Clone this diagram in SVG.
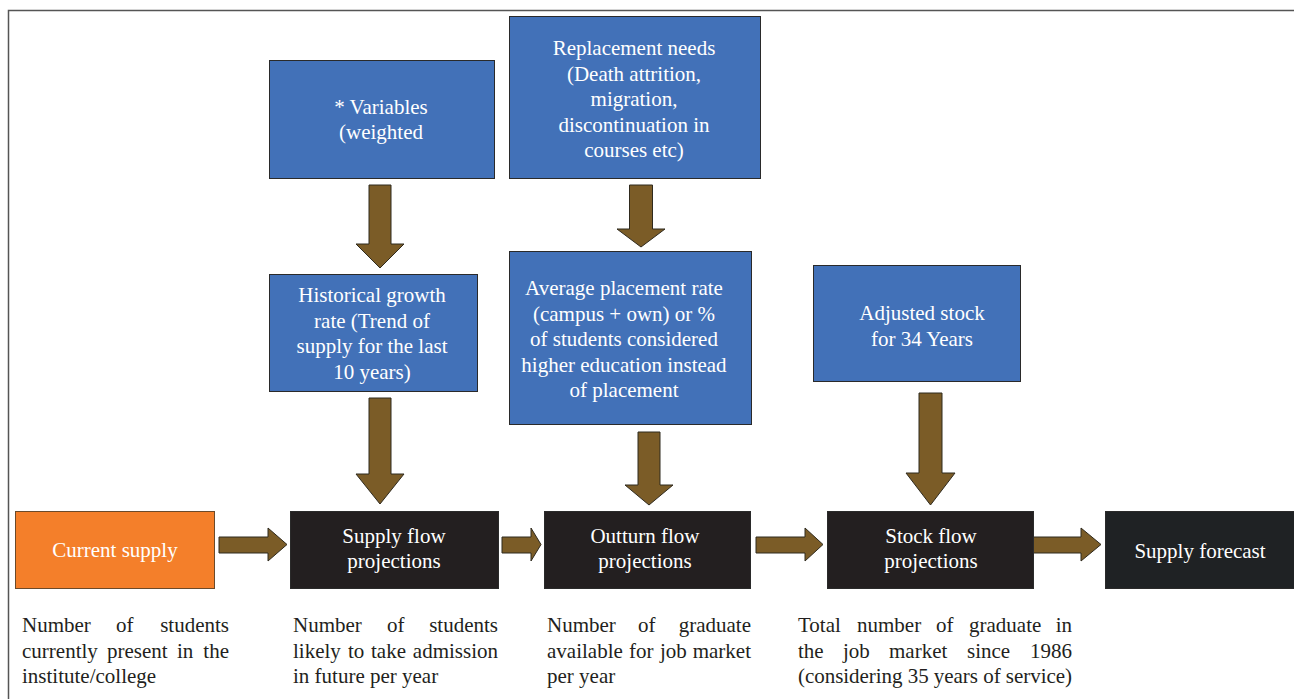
<svg xmlns="http://www.w3.org/2000/svg" width="1294" height="699" viewBox="0 0 1294 699">
<style>
.bx{fill:#4271B8;stroke:#2a2a2a;stroke-width:1}
.dk{fill:#231F20;stroke:#2a2a2a;stroke-width:1}
.or{fill:#F47F2A;stroke:#6b4a2a;stroke-width:1}
.t{font-family:"Liberation Serif","Times New Roman",serif;font-size:21px;fill:#ffffff;text-anchor:middle}
.d{font-family:"Liberation Serif","Times New Roman",serif;font-size:21px;fill:#231F20}
.ar{fill:#7B5C27;stroke:#2f2a1e;stroke-width:1}
</style>
<rect width="1294" height="699" fill="#ffffff"/>
<path d="M8.5,699 V10.5 H1294" fill="none" stroke="#555555" stroke-width="1.5"/>

<g id="connectors">
<path class="ar" d="M369,185 H391 V244 H404 L380,268 L356,244 H369 Z"/>
<path class="ar" d="M629.5,185 H652.5 V229 H665 L641,247 L617,229 H629.5 Z"/>
<path class="ar" d="M369,398 H391 V474 H404 L380,504 L356,474 H369 Z"/>
<path class="ar" d="M638,432 H660 V485 H673 L649,505 L625,485 H638 Z"/>
<path class="ar" d="M919,393 H942 V473 H955 L930.5,505 L906,473 H919 Z"/>
<path class="ar" d="M219,537 H268 V528 L287,544.5 L268,561 V553 H219 Z"/>
<path class="ar" d="M502,537 H531 V528 L541,544.5 L531,561 V553 H502 Z"/>
<path class="ar" d="M756,537 H805 V528 L823,544.5 L805,561 V553 H756 Z"/>
<path class="ar" d="M1033,537 H1081 V528 L1101,544.5 L1081,561 V553 H1033 Z"/>
</g>

<g id="variables">
<rect class="bx" x="269.5" y="60.5" width="225" height="118"/>
<text class="t" x="381" y="114">* Variables</text>
<text class="t" x="381" y="139">(weighted</text>
</g>

<g id="replacement">
<rect class="bx" x="509.5" y="16.5" width="251" height="162"/>
<text class="t" x="634" y="55">Replacement needs</text>
<text class="t" x="634" y="81">(Death attrition,</text>
<text class="t" x="634" y="106">migration,</text>
<text class="t" x="634" y="132">discontinuation in</text>
<text class="t" x="634" y="157">courses etc)</text>
</g>

<g id="historical">
<rect class="bx" x="269.5" y="274.5" width="208" height="117"/>
<text class="t" x="372" y="302">Historical growth</text>
<text class="t" x="372" y="328">rate (Trend of</text>
<text class="t" x="372" y="353">supply for the last</text>
<text class="t" x="372" y="379">10 years)</text>
</g>

<g id="placement">
<rect class="bx" x="509.5" y="251.5" width="242" height="173"/>
<text class="t" x="624" y="295">Average placement rate</text>
<text class="t" x="624" y="321">(campus + own) or %</text>
<text class="t" x="624" y="346">of students considered</text>
<text class="t" x="624" y="372">higher education instead</text>
<text class="t" x="624" y="397">of placement</text>
</g>

<g id="adjusted">
<rect class="bx" x="813.5" y="265.5" width="207" height="116"/>
<text class="t" x="922" y="320">Adjusted stock</text>
<text class="t" x="922" y="346">for 34 Years</text>
</g>

<g id="current">
<rect class="or" x="15.5" y="511.5" width="199" height="77"/>
<text class="t" x="115" y="557">Current supply</text>
</g>

<g id="supplyflow">
<rect class="dk" x="290.5" y="511.5" width="208" height="77"/>
<text class="t" x="394" y="543">Supply flow</text>
<text class="t" x="394" y="568">projections</text>
</g>

<g id="outturn">
<rect class="dk" x="544.5" y="511.5" width="206" height="77"/>
<text class="t" x="645" y="543">Outturn flow</text>
<text class="t" x="645" y="568">projections</text>
</g>

<g id="stockflow">
<rect class="dk" x="827.5" y="511.5" width="206" height="77"/>
<text class="t" x="931" y="543">Stock flow</text>
<text class="t" x="931" y="568">projections</text>
</g>

<g id="forecast">
<rect x="1105.5" y="511.5" width="190" height="77" fill="#1F2224" stroke="#2a2a2a" stroke-width="1"/>
<text class="t" x="1200" y="558">Supply forecast</text>
</g>

<g id="desc1">
<text class="d" y="632"><tspan x="22">Number</tspan><tspan x="116">of</tspan><tspan x="229" text-anchor="end">students</tspan></text>
<text class="d" y="658"><tspan x="22">currently</tspan><tspan x="107">present</tspan><tspan x="177">in</tspan><tspan x="229" text-anchor="end">the</tspan></text>
<text class="d" x="22" y="683">institute/college</text>
</g>

<g id="desc2">
<text class="d" y="632"><tspan x="293">Number</tspan><tspan x="387">of</tspan><tspan x="498" text-anchor="end">students</tspan></text>
<text class="d" y="658"><tspan x="293">likely</tspan><tspan x="348">to</tspan><tspan x="371">take</tspan><tspan x="498" text-anchor="end">admission</tspan></text>
<text class="d" x="293" y="683">in future per year</text>
</g>

<g id="desc3">
<text class="d" y="632"><tspan x="547">Number</tspan><tspan x="638">of</tspan><tspan x="751" text-anchor="end">graduate</tspan></text>
<text class="d" y="658"><tspan x="547">available</tspan><tspan x="629">for</tspan><tspan x="660">job</tspan><tspan x="751" text-anchor="end">market</tspan></text>
<text class="d" x="547" y="683">per year</text>
</g>

<g id="desc4">
<text class="d" y="632"><tspan x="798">Total</tspan><tspan x="857">number</tspan><tspan x="936">of</tspan><tspan x="969">graduate</tspan><tspan x="1072" text-anchor="end">in</tspan></text>
<text class="d" y="658"><tspan x="798">the</tspan><tspan x="843">job</tspan><tspan x="889">market</tspan><tspan x="967">since</tspan><tspan x="1072" text-anchor="end">1986</tspan></text>
<text class="d" x="798" y="683" textLength="274" lengthAdjust="spacing">(considering 35 years of service)</text>
</g>
</svg>
